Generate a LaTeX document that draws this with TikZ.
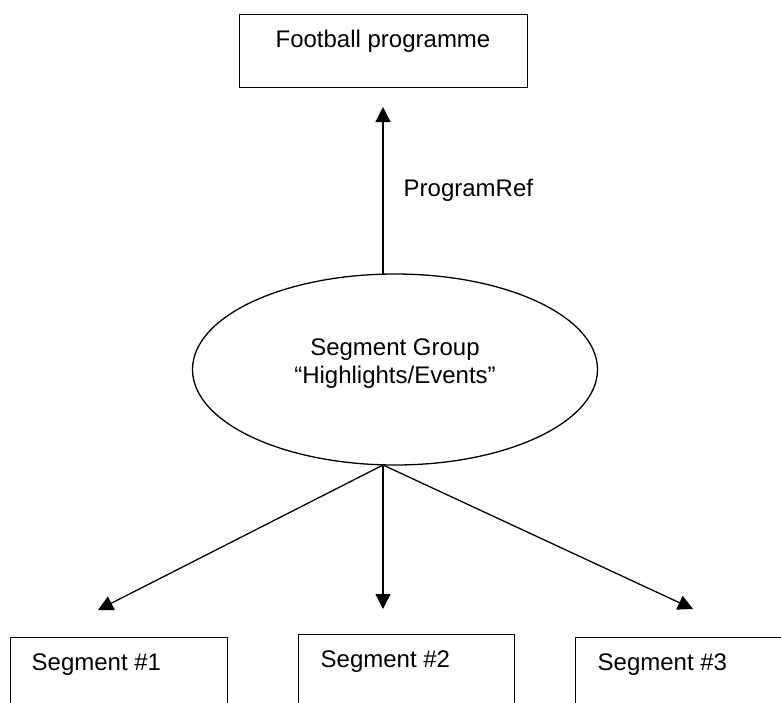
\documentclass[tikz,border=0pt]{standalone}
\usepackage{fontspec}
\setmainfont{Liberation Sans}
\usetikzlibrary{arrows.meta,shapes.geometric}

\begin{document}
\begin{tikzpicture}[x=0.5pt,y=-0.5pt,line width=0.65pt,
  font=\fontsize{12}{14}\selectfont,
  box/.style={draw,rectangle,inner sep=0,anchor=north west},
  txt/.style={inner sep=0},
  >={Triangle[length=7.5pt,width=7.5pt]}]
\useasboundingbox (0,0) rectangle (781,702);
\clip (0,0) rectangle (781,702);

\node[box,minimum width=144pt,minimum height=36.5pt] (prog) at (239,14) {};
\node[txt,anchor=base] (progname) at (383,47) {Football programme};

\node[draw,ellipse,inner sep=0,minimum width=202.5pt,minimum height=95.5pt] (grp) at (395,369.5) {};
\node[txt,anchor=base] (grpname) at (395,355) {Segment Group};
\node[txt,anchor=base] (grpquote) at (395,383) {“Highlights/Events”};

\coordinate (grptop) at (383,274);
\coordinate (progin) at (383,107);
\draw[->] (grptop)--(progin);
\node[txt,anchor=base west] (reflabel) at (403,196) {ProgramRef};

\node[box,minimum width=108.5pt,minimum height=45pt] (seg1) at (10,637) {};
\node[box,minimum width=108pt,minimum height=45pt] (seg2) at (298,634) {};
\node[box,minimum width=110pt,minimum height=45pt] (seg3) at (575,637) {};

\node[txt,anchor=base west] (segname1) at (31,670) {Segment \#1};
\node[txt,anchor=base west] (segname2) at (320,667) {Segment \#2};
\node[txt,anchor=base west] (segname3) at (597,670) {Segment \#3};

\coordinate (grpbot) at (383,465);
\coordinate (seg1in) at (98,610);
\coordinate (seg2in) at (383,609);
\coordinate (seg3in) at (693,609);

\draw[->] (grpbot)--(seg1in);
\draw[->] (grpbot)--(seg2in);
\draw[->] (grpbot)--(seg3in);

\end{tikzpicture}
\end{document}
